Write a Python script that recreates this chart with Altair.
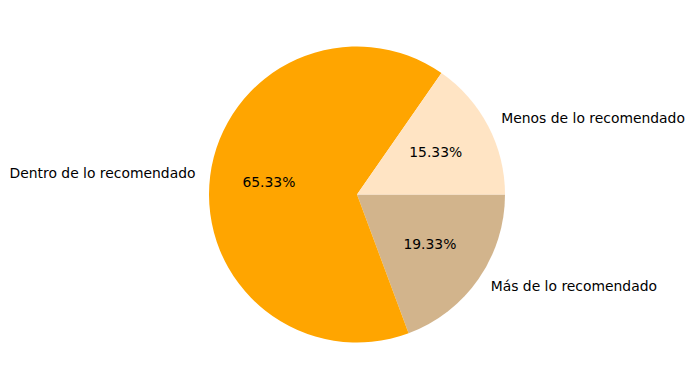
import math
import altair as alt
import pandas as pd

categories = ["Más de lo recomendado", "Dentro de lo recomendado", "Menos de lo recomendado"]
counts = [29, 98, 23]
colors = ["#D2B48C", "#FFA500", "#FFE4C4"]

total = sum(counts)
df = pd.DataFrame({
    "label": categories,
    "count": counts,
    "idx": list(range(len(categories))),
    "pct": [f"{c / total * 100:.2f}%" for c in counts],
})

CX, CY = 349, 186.5
R = 148

theta = alt.Theta("count:Q", stack=True,
                  scale=alt.Scale(range=[math.pi / 2, math.pi / 2 + 2 * math.pi]))
color = alt.Color("label:N", scale=alt.Scale(domain=categories, range=colors), legend=None)
order = alt.Order("idx:Q", sort="ascending")

base = alt.Chart(df).encode(theta=theta, order=order,
                            x=alt.value(CX), y=alt.value(CY))

arcs = base.mark_arc(outerRadius=R).encode(color=color)

pct = base.mark_text(radius=R * 0.6, font="DejaVu Sans", fontSize=13.9,
                     color="black", align="center", baseline="middle").encode(text="pct:N")

labels = base.mark_text(
    radius=R * 1.1, font="DejaVu Sans", fontSize=13.9, color="black", baseline="middle",
    align=alt.expr("datum.label == 'Dentro de lo recomendado' ? 'right' : 'left'"),
).encode(text="label:N")

chart = alt.layer(arcs, pct, labels).properties(
    width=679, height=370,
    autosize=alt.AutoSizeParams(type="none"),
    padding=0,
).configure(background="white").configure_view(stroke="transparent", strokeWidth=0)

chart.save("out.html", embed_options={"renderer": "svg", "actions": False})
